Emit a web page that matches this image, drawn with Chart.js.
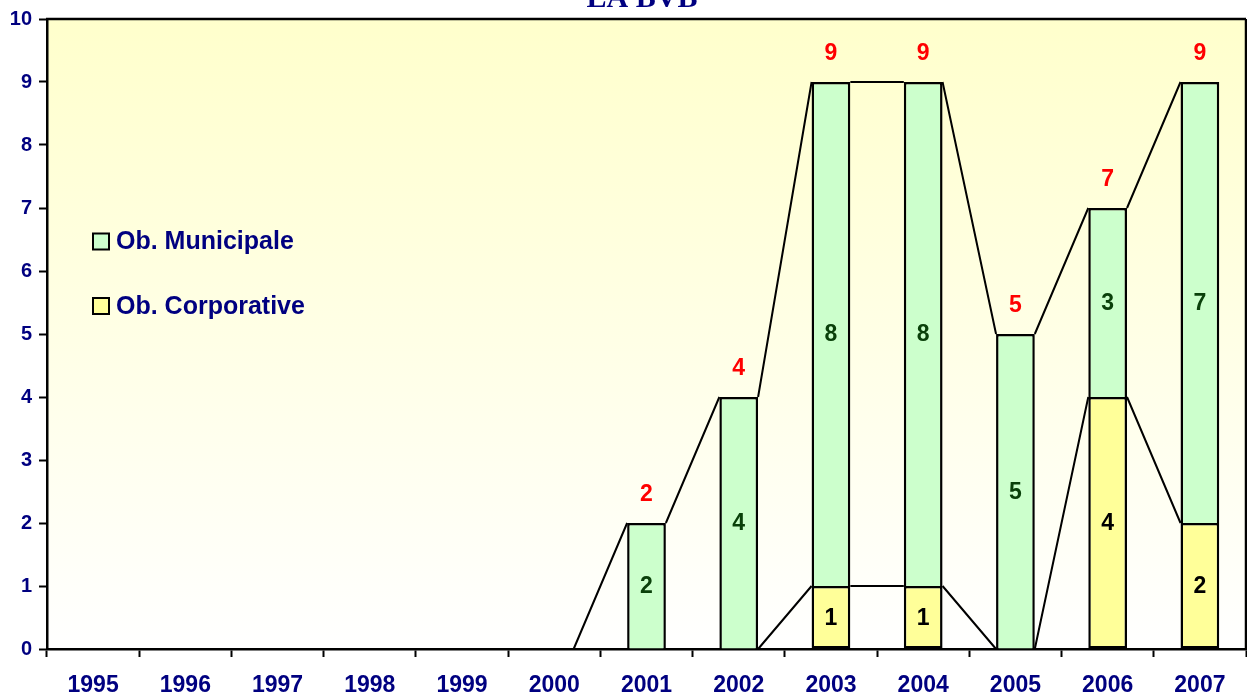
<!DOCTYPE html>
<html><head><meta charset="utf-8">
<script src="https://cdn.jsdelivr.net/npm/chart.js@4.4.1/dist/chart.umd.min.js"></script>
<style>html,body{margin:0;padding:0;background:#fff}#wrap{width:1247px;height:696px;position:relative}</style>
</head><body><div id="wrap"><canvas id="c" width="1247" height="696"></canvas></div>
<script>
const chartTitle = 'LA BVB';
const years = ['1995','1996','1997','1998','1999','2000','2001','2002','2003','2004','2005','2006','2007'];
const municipale = [0,0,0,0,0,0,2,4,8,8,5,3,7];
const corporative = [0,0,0,0,0,0,0,0,1,1,0,4,2];
const seriesNames = ['Ob. Municipale','Ob. Corporative'];
const yTickValues = [0,1,2,3,4,5,6,7,8,9,10];

const NAVY = '#000080';
const GREEN_FILL = '#CCFFCC';
const YELLOW_FILL = '#FFFF99';
const FONT = '"Liberation Sans", Arial, sans-serif';

const bgPlugin = {
  id: 'bg',
  beforeDraw(chart) {
    const {ctx, chartArea: a} = chart;
    ctx.save();
    ctx.fillStyle = '#ffffff';
    ctx.fillRect(0, 0, chart.width, chart.height);
    const g = ctx.createLinearGradient(0, a.top, 0, a.bottom);
    g.addColorStop(0, '#FFFFCC');
    g.addColorStop(1, '#FFFFFF');
    ctx.fillStyle = g;
    ctx.fillRect(a.left, a.top, a.right - a.left, a.bottom - a.top);
    ctx.restore();
  },
  afterDraw(chart) {
    const {ctx, chartArea: a} = chart;
    ctx.save();
    ctx.strokeStyle = '#000';
    ctx.lineWidth = 2.5;
    ctx.beginPath();
    ctx.moveTo(a.left - 1, a.top);
    ctx.lineTo(a.right, a.top);
    ctx.moveTo(a.right, a.top);
    ctx.lineTo(a.right, a.bottom);
    ctx.stroke();
    // title (cut off at top like the reference)
    ctx.fillStyle = NAVY;
    ctx.font = 'bold 30px "Liberation Serif", "Times New Roman", serif';
    ctx.textAlign = 'center';
    ctx.textBaseline = 'alphabetic';
    ctx.fillText(chartTitle, 642, 7);
    // legend
    const items = [
      {label: seriesNames[0], color: GREEN_FILL, y: 241.5},
      {label: seriesNames[1], color: YELLOW_FILL, y: 306}
    ];
    items.forEach(it => {
      ctx.fillStyle = it.color;
      ctx.fillRect(93, it.y - 8, 16, 16);
      ctx.strokeStyle = '#000';
      ctx.lineWidth = 2;
      ctx.strokeRect(93, it.y - 8, 16, 16);
      ctx.fillStyle = NAVY;
      ctx.font = 'bold 25px ' + FONT;
      ctx.textAlign = 'left';
      ctx.textBaseline = 'middle';
      ctx.fillText(it.label, 116, it.y + 1);
    });
    ctx.restore();
  }
};

const seriesLinesPlugin = {
  id: 'serieslines',
  afterDatasetsDraw(chart) {
    const ctx = chart.ctx;
    ctx.save();
    ctx.strokeStyle = '#000';
    ctx.lineWidth = 2;
    chart.data.datasets.forEach((ds, i) => {
      const els = chart.getDatasetMeta(i).data;
      ctx.beginPath();
      for (let j = 0; j < els.length - 1; j++) {
        const a = els[j].getProps(['x','y','width'], true);
        const b = els[j+1].getProps(['x','y','width'], true);
        ctx.moveTo(a.x + a.width / 2, a.y);
        ctx.lineTo(b.x - b.width / 2, b.y);
      }
      ctx.stroke();
    });
    ctx.restore();
  }
};

const labelsPlugin = {
  id: 'vlabels',
  afterDatasetsDraw(chart) {
    const ctx = chart.ctx;
    ctx.save();
    ctx.font = 'bold 23px ' + FONT;
    ctx.textAlign = 'center';
    ctx.textBaseline = 'middle';
    const colors = ['#000000', '#0a400a'];
    chart.data.datasets.forEach((ds, i) => {
      const els = chart.getDatasetMeta(i).data;
      els.forEach((el, j) => {
        const v = ds.data[j];
        if (!v) return;
        const p = el.getProps(['x','y','base'], true);
        ctx.fillStyle = colors[i];
        ctx.fillText(String(v), p.x, (p.y + p.base) / 2 + 1);
      });
    });
    const topEls = chart.getDatasetMeta(chart.data.datasets.length - 1).data;
    topEls.forEach((el, j) => {
      const total = corporative[j] + municipale[j];
      if (!total) return;
      const p = el.getProps(['x','y'], true);
      ctx.fillStyle = '#FF0000';
      ctx.fillText(String(total), p.x, p.y - 28);
    });
    ctx.restore();
  }
};

new Chart(document.getElementById('c'), {
  type: 'bar',
  data: {
    labels: years,
    datasets: [
      {label: seriesNames[1], data: corporative, backgroundColor: YELLOW_FILL, borderColor: '#000', borderWidth: 2.5, borderSkipped: false, categoryPercentage: 1, barPercentage: 0.42},
      {label: seriesNames[0], data: municipale, backgroundColor: GREEN_FILL, borderColor: '#000', borderWidth: 2.5, borderSkipped: 'start', categoryPercentage: 1, barPercentage: 0.42}
    ]
  },
  options: {
    responsive: false,
    animation: false,
    layout: {padding: {top: 17, right: 1, left: 0, bottom: 0}},
    plugins: {legend: {display: false}, title: {display: false}, tooltip: {enabled: false}},
    scales: {
      x: {
        stacked: true,
        afterFit(s) { s.height = 47; },
        grid: {offset: true, drawOnChartArea: false, drawTicks: true, tickLength: 8, tickColor: '#000', tickWidth: 2},
        border: {display: true, color: '#000', width: 2.5},
        ticks: {color: NAVY, font: {family: FONT, size: 23, weight: 'bold'}, padding: 15, maxRotation: 0, autoSkip: false}
      },
      y: {
        stacked: true,
        min: yTickValues[0],
        max: yTickValues[yTickValues.length - 1],
        afterFit(s) { s.width = 47; },
        afterBuildTicks(s) { s.ticks = yTickValues.map(v => ({value: v})); },
        grid: {drawOnChartArea: false, drawTicks: true, tickLength: 8, tickColor: '#000', tickWidth: 2},
        border: {display: true, color: '#000', width: 2.5},
        ticks: {color: NAVY, font: {family: FONT, size: 20, weight: 'bold'}, padding: 7}
      }
    }
  },
  plugins: [bgPlugin, seriesLinesPlugin, labelsPlugin]
});
</script>
</body></html>
